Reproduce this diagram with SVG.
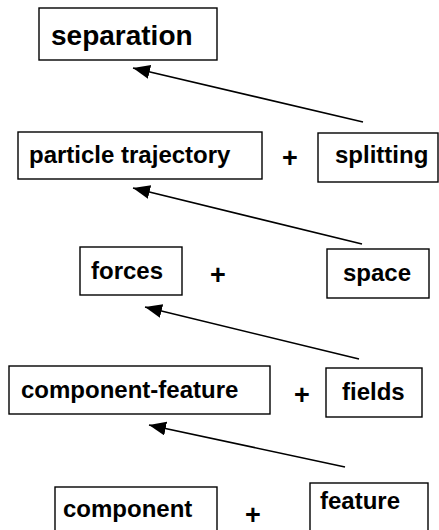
<svg xmlns="http://www.w3.org/2000/svg" width="439" height="530" viewBox="0 0 439 530">
  <style>
    .box { fill: #ffffff; stroke: #000000; stroke-width: 1.4; }
    .lbl { font-family: "Liberation Sans", Arial, sans-serif; font-weight: bold; font-size: 24px; fill: #000000; }
    .big { font-size: 28px; }
    .plus { font-family: "Liberation Sans", Arial, sans-serif; font-weight: bold; font-size: 27px; fill: #000000; text-anchor: middle; }
    .edge { stroke: #000000; stroke-width: 1.6; fill: none; marker-end: url(#head); }
  </style>
  <defs>
    <marker id="head" markerUnits="userSpaceOnUse" markerWidth="20" markerHeight="16" refX="17" refY="7" orient="auto">
      <path d="M0,0 L17,7 L0,14 Z" fill="#000000"/>
    </marker>
  </defs>
  <rect width="439" height="530" fill="#ffffff"/>

  <g id="connectors">
    <line class="edge" x1="363" y1="122" x2="133" y2="68"/>
    <line class="edge" x1="362" y1="244" x2="133" y2="188"/>
    <line class="edge" x1="359" y1="359" x2="145" y2="307"/>
    <line class="edge" x1="345" y1="467" x2="149" y2="425"/>
  </g>

  <g id="separation">
    <rect class="box" x="39" y="8" width="178" height="52"/>
    <text class="lbl big" x="51" y="45">separation</text>
  </g>

  <g id="particle-trajectory">
    <rect class="box" x="18" y="132" width="244" height="47"/>
    <text class="lbl" x="29" y="163">particle trajectory</text>
  </g>
  <text class="plus" x="290" y="167">+</text>
  <g id="splitting">
    <rect class="box" x="318" y="133" width="120" height="49"/>
    <text class="lbl" x="335" y="163">splitting</text>
  </g>

  <g id="forces">
    <rect class="box" x="80" y="247" width="102" height="48"/>
    <text class="lbl" x="91" y="279">forces</text>
  </g>
  <text class="plus" x="218" y="284">+</text>
  <g id="space">
    <rect class="box" x="327" y="249" width="102" height="49"/>
    <text class="lbl" x="343" y="281">space</text>
  </g>

  <g id="component-feature">
    <rect class="box" x="9" y="366" width="261" height="48"/>
    <text class="lbl" x="21" y="398">component-feature</text>
  </g>
  <text class="plus" x="302" y="404">+</text>
  <g id="fields">
    <rect class="box" x="326" y="368" width="96" height="49"/>
    <text class="lbl" x="342" y="400">fields</text>
  </g>

  <g id="component">
    <rect class="box" x="55" y="487" width="162" height="50"/>
    <text class="lbl" x="63" y="517">component</text>
  </g>
  <text class="plus" x="253" y="524">+</text>
  <g id="feature">
    <rect class="box" x="310" y="483" width="118" height="50"/>
    <text class="lbl" x="320" y="509">feature</text>
  </g>
</svg>
